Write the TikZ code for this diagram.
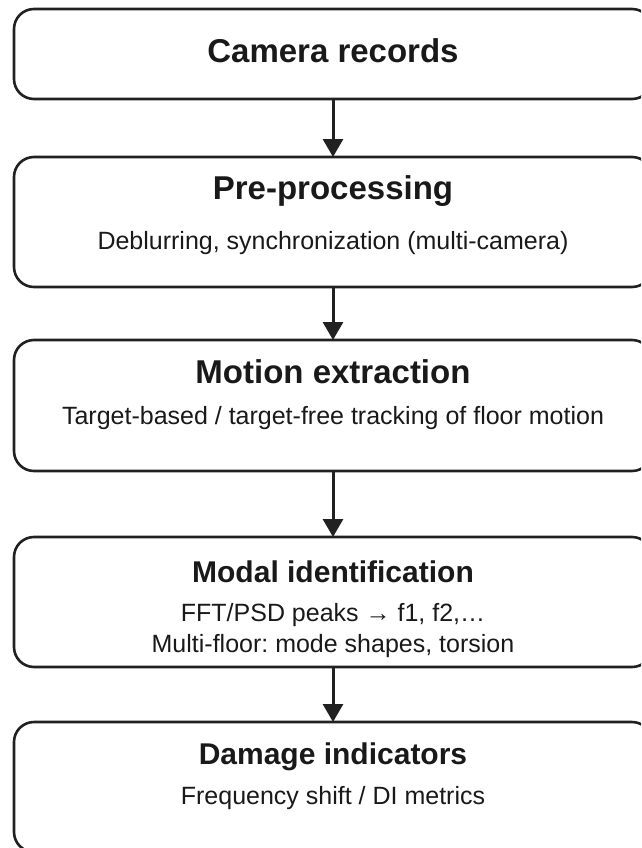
\documentclass[tikz,border=0pt]{standalone}
\usepackage{fontspec}
\setmainfont{Liberation Sans}
\usetikzlibrary{arrows.meta,positioning}
\frenchspacing

\tikzset{
  stage/.style={rectangle, draw=black!87, line width=2.6pt, rounded corners=20pt,
    minimum width=638pt, inner sep=0pt, outer sep=0pt},
  bigtitle/.style={font=\fontsize{33}{40}\selectfont\bfseries, text=black!90, anchor=base, inner sep=0pt},
  smalltitle/.style={font=\fontsize{30}{36}\selectfont\bfseries, text=black!90, anchor=base, inner sep=0pt},
  detail/.style={font=\fontsize{25}{30}\selectfont, text=black!90, anchor=base, inner sep=0pt},
  flow/.style={draw=black!87, line width=3pt, -{Triangle[width=20pt,length=18pt]}}
}

\begin{document}
\begin{tikzpicture}
    \useasboundingbox (0,0) rectangle (641pt,-848pt);
    \clip (0,0) rectangle (641pt,-848pt);
    % stages
    \node(cam) [stage, minimum height=90pt] at (333pt,-54pt) {};
    \node(pre) [stage, minimum height=130pt, below=58pt of cam] {};
    \node(mot) [stage, minimum height=131pt, below=53pt of pre] {};
    \node(mod) [stage, minimum height=130pt, below=66pt of mot] {};
    \node(dam) [stage, minimum height=130pt, below=55pt of mod] {};
    % texts
    \node(camT) [bigtitle] at ([yshift=-54pt]cam.north) {Camera records};
    \node(preT) [bigtitle] at ([yshift=-42pt]pre.north) {Pre-processing};
    \node(preD) [detail] at ([yshift=-92pt]pre.north) {Deblurring, synchronization (multi-camera)};
    \node(motT) [bigtitle] at ([yshift=-43pt]mot.north) {Motion extraction};
    \node(motD) [detail] at ([yshift=-84pt]mot.north) {Target-based / target-free tracking of floor motion};
    \node(modT) [smalltitle] at ([yshift=-45pt]mod.north) {Modal identification};
    \node(modD) [detail] at ([yshift=-84pt]mod.north) {FFT/PSD peaks → f1, f2,…};
    \node(modE) [detail] at ([yshift=-115pt]mod.north) {Multi-floor: mode shapes, torsion};
    \node(damT) [smalltitle] at ([yshift=-42pt]dam.north) {Damage indicators};
    \node(damD) [detail] at ([yshift=-82pt]dam.north) {Frequency shift / DI metrics};
    % arrows
    \draw[flow] (cam) -- (pre);
    \draw[flow] (pre) -- (mot);
    \draw[flow] (mot) -- (mod);
    \draw[flow] (mod) -- (dam);
  \end{tikzpicture}
\end{document}
